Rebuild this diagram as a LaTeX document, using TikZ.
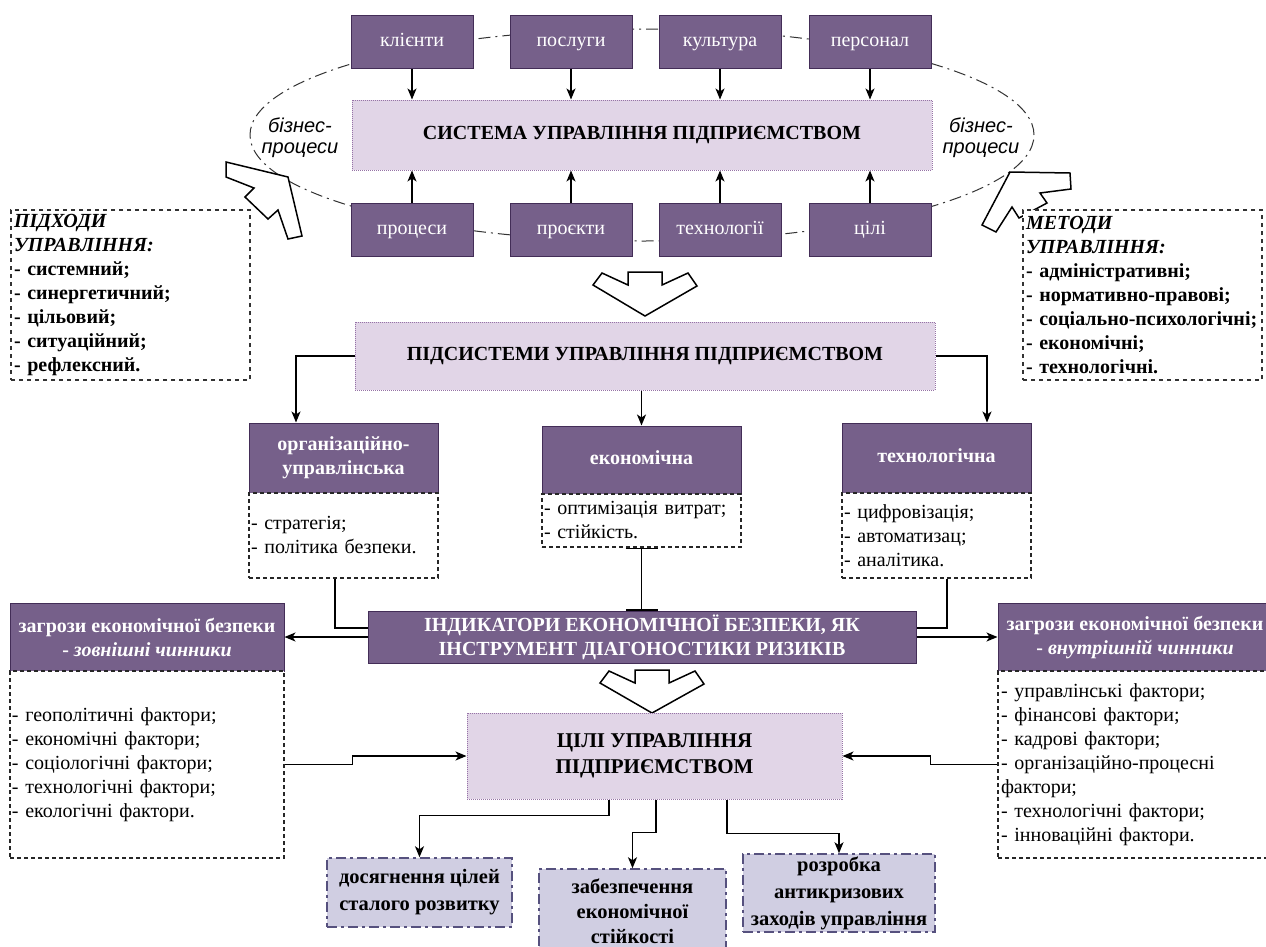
\documentclass[tikz,border=0pt]{standalone}
\usepackage{fontspec}
\setmainfont{Liberation Serif}
\newfontfamily\sansfnt{Liberation Sans}
\usetikzlibrary{arrows.meta,calc}
\definecolor{dpur}{HTML}{76608A}
\definecolor{dbord}{HTML}{432D57}
\definecolor{lpur}{HTML}{E1D5E7}
\definecolor{lbord}{HTML}{9673A6}
\definecolor{bpur}{HTML}{D0CEE2}
\definecolor{bbord}{HTML}{56517E}
\hyphenpenalty=10000
\begin{document}
\begin{tikzpicture}[x=1pt,y=-1pt,
  dbox/.style={draw=dbord, line width=1pt, fill=dpur, text=white, align=center, inner sep=0pt, font=\fontsize{20}{24}\selectfont},
  dboxb/.style={dbox, font=\bfseries\fontsize{20}{24}\selectfont},
  oneline/.style={text height=13.5pt, text depth=4.5pt},
  lbox/.style={draw=lbord, line width=1pt, dash pattern=on 1pt off 1pt, fill=lpur, align=center, inner sep=0pt, font=\bfseries\fontsize{20}{24}\selectfont},
  lst/.style={draw=black!85, line width=1.1pt, dash pattern=on 4pt off 3pt, fill=white, align=left, inner xsep=2pt, inner ysep=0pt, font=\fontsize{20}{24}\selectfont},
  bigl/.style={draw=black!80, line width=1.5pt, dash pattern=on 4pt off 4pt, fill=white, align=left, inner xsep=3pt, inner ysep=0pt, font=\bfseries\fontsize{20}{24}\selectfont},
  bbox/.style={draw=bbord, line width=1.5pt, dash pattern=on 10pt off 4pt on 3pt off 4pt, fill=bpur, align=center, inner sep=0pt, font=\bfseries\fontsize{20.5}{27}\selectfont},
  conn/.style={draw=black, line width=1.3pt, -{Stealth[length=11pt,width=9pt,inset=3pt]}},
  plain/.style={draw=black, line width=1.3pt},
  hollow/.style={draw=black, line width=1.5pt, fill=white, line join=miter},
  ell/.style={draw=black!80, line width=1pt, dash pattern=on 12pt off 5pt on 2pt off 5pt},
  bp/.style={font=\sansfnt\itshape\fontsize{20}{21}\selectfont, align=center, inner sep=0pt}
]
\useasboundingbox (0,0) rectangle (1266,946);
\fill[white] (0,0) rectangle (1266,946);

% ellipse of business processes
\draw[ell] (642,135) ellipse [x radius=392pt, y radius=106pt];
\node[bp] (bpl) at (300,138) {бізнес-\\процеси};
\node[bp] (bpr) at (981,138) {бізнес-\\процеси};

% top and bottom rows
\node[dbox, oneline, minimum width=122pt, minimum height=53pt] (kl) at (412,41.5) {клієнти};
\node[dbox, oneline, minimum width=122pt, minimum height=53pt] (po) at (571,41.5) {послуги};
\node[dbox, oneline, minimum width=122pt, minimum height=53pt] (ku) at (720,41.5) {культура};
\node[dbox, oneline, minimum width=122pt, minimum height=53pt] (pe) at (870,41.5) {персонал};
\node[dbox, oneline, minimum width=122pt, minimum height=53pt] (pr) at (412,229.5) {процеси};
\node[dbox, oneline, minimum width=122pt, minimum height=53pt] (pj) at (571,229.5) {проєкти};
\node[dbox, oneline, minimum width=122pt, minimum height=53pt] (te) at (720,229.5) {технології};
\node[dbox, oneline, minimum width=122pt, minimum height=53pt] (ci) at (870,229.5) {цілі};

\node[lbox, oneline, minimum width=580pt, minimum height=70pt] (sys) at (642,135) {СИСТЕМА УПРАВЛІННЯ ПІДПРИЄМСТВОМ};

\foreach \n in {kl,po,ku,pe} \draw[conn] (\n.south) -- (\n.south |- sys.north);
\foreach \n in {pr,pj,te,ci} \draw[conn] (\n.north) -- (\n.north |- sys.south);

% hollow pointer arrows
\draw[hollow] (226,162) -- (288,177) -- (302,236) -- (288,239) -- (278,210) -- (268,219) -- (245,197) -- (254,188) -- (226,177) -- cycle;
\draw[hollow] (1010,172) -- (1070,173) -- (1071,189) -- (1040,193) -- (1047,203) -- (1019,218) -- (1012,207) -- (996,232) -- (982,225) -- cycle;

% side boxes
\node[bigl, text width=233pt, minimum height=170pt] (pidh) at (130.5,295) {\textit{ПІДХОДИ}\\\textit{УПРАВЛІННЯ:}\\- системний;\\- синергетичний;\\- цільовий;\\- ситуаційний;\\- рефлексний.};
\node[bigl, text width=233pt, minimum height=170pt] (met) at (1142.5,295) {\textit{МЕТОДИ}\\\textit{УПРАВЛІННЯ:}\\- адміністративні;\\- нормативно-правові;\\\mbox{- соціально-психологічні;}\\- економічні;\\- технологічні.};

% chevron 1
\draw[hollow] (593,285) -- (602,273) -- (628,285) -- (628,272) -- (662,272) -- (662,285) -- (688,273) -- (697,286) -- (645,316) -- cycle;

\node[lbox, oneline, minimum width=580pt, minimum height=68pt] (subs) at (645,356) {ПІДСИСТЕМИ УПРАВЛІННЯ ПІДПРИЄМСТВОМ};

\node[dboxb, minimum width=189pt, minimum height=70pt] (org) at (343.5,458) {організаційно-\\управлінська};
\node[dboxb, oneline, minimum width=199pt, minimum height=68pt] (econ) at (641.5,460) {економічна};
\node[dboxb, oneline, minimum width=189pt, minimum height=70pt] (tech) at (936.5,458) {технологічна};

\node[lst, text width=185pt, minimum height=85pt] (orgsub) at (343.5,535.5) {- стратегія;\\- політика безпеки.};
\node[lst, text width=195pt, minimum height=53pt] (econsub) at (641.5,520.5) {- оптимізація витрат;\\- стійкість.};
\node[lst, text width=185pt, minimum height=85pt] (techsub) at (936.5,535.5) {- цифровізація;\\- автоматизац;\\- аналітика.};

\draw[conn] (subs.west) -| ([xshift=-47.5pt]org.north);
\draw[conn] (econ.north |- subs.south) -- (econ.north);
\draw[conn] (subs.east) -| ([xshift=50.5pt]tech.north);

% indicators
\node[dboxb, minimum width=548pt, minimum height=52pt] (ind) at (642,637) {ІНДИКАТОРИ ЕКОНОМІЧНОЇ БЕЗПЕКИ, ЯК\\ІНСТРУМЕНТ ДІАГОНОСТИКИ РИЗИКІВ};

\draw[plain] ([xshift=-8.5pt]orgsub.south) |- ([yshift=9pt]ind.west);
\draw[plain] ([xshift=10.5pt]techsub.south) |- ([yshift=9pt]ind.east);
\draw[plain, {Bar[width=32pt]}-{Bar[width=32pt]}] (econsub.south) -- (econsub.south |- ind.north);

% threats
\node[dboxb, minimum width=274pt, minimum height=68pt] (zl) at (147,637) {загрози економічної безпеки\\- \textit{зовнішні чинники}};
\node[lst, text width=270pt, minimum height=187pt] (zlsub) at (147,764.5) {- геополітичні фактори;\\- економічні фактори;\\- соціологічні фактори;\\- технологічні фактори;\\- екологічні фактори.};
\node[dboxb, minimum width=274pt, minimum height=68pt] (zr) at (1135,637) {загрози економічної безпеки\\- \textit{внутрішній чинники}};
\node[lst, text width=268pt, inner xsep=3pt, minimum height=187pt] (zrsub) at (1135,764.5) {- управлінські фактори;\\- фінансові фактори;\\- кадрові фактори;\\- організаційно-процесні\\фактори;\\- технологічні фактори;\\- інноваційні фактори.};

\draw[conn] (ind.west) -- (zl.east);
\draw[conn] (ind.east) -- (zr.west);

% chevron 2
\draw[hollow] (600,683) -- (609,671) -- (635,683) -- (635,670) -- (669,670) -- (669,683) -- (695,671) -- (704,684) -- (652,713) -- cycle;

% goals
\node[lbox, font=\bfseries\fontsize{21}{26}\selectfont, minimum width=375pt, minimum height=86pt] (goals) at (654.5,756) {ЦІЛІ УПРАВЛІННЯ\\ПІДПРИЄМСТВОМ};

\draw[conn] (zlsub.east) -- ++(68,0) |- (goals.west);
\draw[conn] (zrsub.west) -- ++(-67,0) |- (goals.east);

% outcomes
\node[bbox, minimum width=185pt, minimum height=69pt] (dos) at (419.5,892.5) {досягнення цілей\\сталого розвитку};
\node[bbox, font=\bfseries\fontsize{20.5}{25}\selectfont, minimum width=187pt, minimum height=84pt] (zab) at (632.5,911) {забезпечення\\економічної\\стійкості};
\node[bbox, minimum width=192pt, minimum height=78pt] (roz) at (839,893) {розробка\\антикризових\\заходів управління};

\draw[conn] ([xshift=-45.5pt]goals.south) -- ++(0,16) -| (dos.north);
\draw[conn] ([xshift=1.5pt]goals.south) -- ++(0,33) -| (zab.north);
\draw[conn] ([xshift=72.5pt]goals.south) -- ++(0,34) -| (roz.north);
\end{tikzpicture}
\end{document}
